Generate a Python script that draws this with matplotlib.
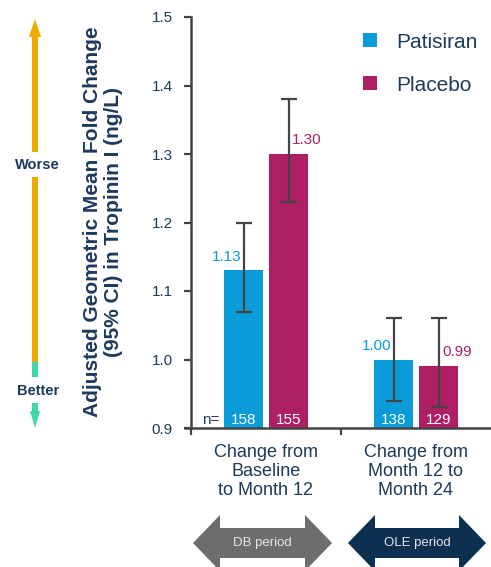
import matplotlib
matplotlib.use("Agg")
import matplotlib.pyplot as plt
from matplotlib.patches import Polygon, Rectangle

plt.rcParams["font.family"] = ["Liberation Sans", "DejaVu Sans"]

# data
groups = ["Change from\nBaseline\nto Month 12", "Change from\nMonth 12 to\nMonth 24"]
series = ["Patisiran", "Placebo"]
means = {"Patisiran": [1.13, 1.00], "Placebo": [1.30, 0.99]}
ci_low = {"Patisiran": [1.07, 0.94], "Placebo": [1.23, 0.93]}
ci_high = {"Patisiran": [1.20, 1.06], "Placebo": [1.38, 1.06]}
n_counts = {"Patisiran": [158, 138], "Placebo": [155, 129]}
value_labels = {"Patisiran": ["1.13", "1.00"], "Placebo": ["1.30", "0.99"]}
periods = ["DB period", "OLE period"]
yticks = [0.9, 1.0, 1.1, 1.2, 1.3, 1.4, 1.5]

NAVY = "#1d3a5c"
COLORS = {"Patisiran": "#0a9bd9", "Placebo": "#ae1f63"}
AXIS_GREY = "#444444"
ORANGE = "#efaa00"
GREEN = "#3fd8ab"
PERIOD_COLORS = ["#6b6e6d", "#0d2f50"]

W, H = 491, 567
fig = plt.figure(figsize=(W / 100, H / 100), dpi=100)


def fx(px):
    return px / W


def fy(py):
    # pixel row measured from the top edge
    return 1 - py / H


ax = fig.add_axes([fx(185), fy(428), fx(306), fy(17) - fy(428)])

centers = [0.5, 1.5]
width = 0.26
offsets = {"Patisiran": -0.15, "Placebo": 0.15}

for s in series:
    xs = [c + offsets[s] for c in centers]
    ax.bar(xs, [m - 0.9 for m in means[s]], bottom=0.9, width=width,
           color=COLORS[s], label=s, zorder=2)
    yerr = [[m - lo for m, lo in zip(means[s], ci_low[s])],
            [hi - m for m, hi in zip(means[s], ci_high[s])]]
    ax.errorbar(xs, means[s], yerr=yerr, fmt="none", ecolor=AXIS_GREY,
                elinewidth=1.6, capsize=6, capthick=1.6, zorder=3)
    for x, m, lab, n in zip(xs, means[s], value_labels[s], n_counts[s]):
        if s == "Patisiran":
            ax.text(x - 0.015, m + 0.01, lab, color=COLORS[s], fontsize=11,
                    ha="right", va="bottom")
        else:
            ax.text(x + 0.025, m + 0.01, lab, color=COLORS[s], fontsize=11,
                    ha="left", va="bottom")
        ax.text(x, 0.902, str(n), color="white", fontsize=11,
                ha="center", va="bottom", zorder=4)

ax.text(0.13, 0.902, "n=", color=NAVY, fontsize=11, ha="center", va="bottom")

ax.set_xlim(-0.04, 2)
ax.set_ylim(0.9, 1.5)
ax.spines["left"].set_position(("data", 0))
for side in ("top", "right"):
    ax.spines[side].set_visible(False)
for side in ("left", "bottom"):
    ax.spines[side].set_color(AXIS_GREY)
    ax.spines[side].set_linewidth(1.8)
ax.set_yticks(yticks)
ax.set_yticklabels([f"{t:.1f}" for t in yticks])
ax.set_xticks([0, 1])
ax.set_xticklabels([])
ax.tick_params(axis="both", direction="out", length=5, width=1.6,
               color=AXIS_GREY, labelsize=11, labelcolor=NAVY, pad=8)

for c, g in zip(centers, groups):
    ax.text(c, -0.04, g, transform=ax.get_xaxis_transform(), ha="center",
            va="top", fontsize=13, color=NAVY, linespacing=1.12)

fig.text(fx(103), fy(222),
         "Adjusted Geometric Mean Fold Change\n(95% CI) in Tropinin I (ng/L)",
         rotation=90, ha="center", va="center", fontsize=15,
         fontweight="bold", color=NAVY, linespacing=1.15)

leg = ax.legend(loc="upper left", bbox_to_anchor=(0.582, 0.962), frameon=False,
                fontsize=15, handlelength=0.67, handleheight=0.67,
                handletextpad=0.9, labelspacing=1.15, borderpad=0,
                borderaxespad=0)
for t in leg.get_texts():
    t.set_color(NAVY)


def add_fig_poly(points, color):
    fig.patches.append(Polygon([(fx(x), fy(y)) for x, y in points], closed=True,
                               transform=fig.transFigure, facecolor=color,
                               edgecolor="none"))


def add_fig_rect(x0, y0, x1, y1, color):
    fig.patches.append(Rectangle((fx(x0), fy(y1)), fx(x1) - fx(x0),
                                 fy(y0) - fy(y1), transform=fig.transFigure,
                                 facecolor=color, edgecolor="none"))


# worse / better indicator on the far left
cx = 35
add_fig_poly([(cx - 6, 37), (cx, 19), (cx + 6, 37)], ORANGE)
add_fig_rect(cx - 3, 36, cx + 3, 152, ORANGE)
add_fig_rect(cx - 3, 177, cx + 3, 362, ORANGE)
add_fig_rect(cx - 3, 362, cx + 3, 377, GREEN)
add_fig_rect(cx - 3, 403, cx + 3, 412, GREEN)
add_fig_poly([(cx - 5, 411), (cx, 428), (cx + 5, 411)], GREEN)
fig.text(fx(37), fy(165), "Worse", ha="center", va="center", fontsize=10.5,
         fontweight="bold", color=NAVY)
fig.text(fx(38), fy(391), "Better", ha="center", va="center", fontsize=10.5,
         fontweight="bold", color=NAVY)


def double_arrow(x0, x1, head, top, bottom, s_top, s_bot, color):
    mid = (top + bottom) / 2
    add_fig_poly([(x0, mid), (x0 + head, top), (x0 + head, s_top),
                  (x1 - head, s_top), (x1 - head, top), (x1, mid),
                  (x1 - head, bottom), (x1 - head, s_bot), (x0 + head, s_bot),
                  (x0 + head, bottom)], color)


arrow_spans = [(193, 332), (348, 486)]
for (x0, x1), label, col in zip(arrow_spans, periods, PERIOD_COLORS):
    double_arrow(x0, x1, 27, 515, 571, 528, 558, col)
    fig.text(fx((x0 + x1) / 2), fy(543), label, ha="center", va="center",
             fontsize=9.5, color="#e6e6e6")

fig.savefig("out.png", dpi=100)
